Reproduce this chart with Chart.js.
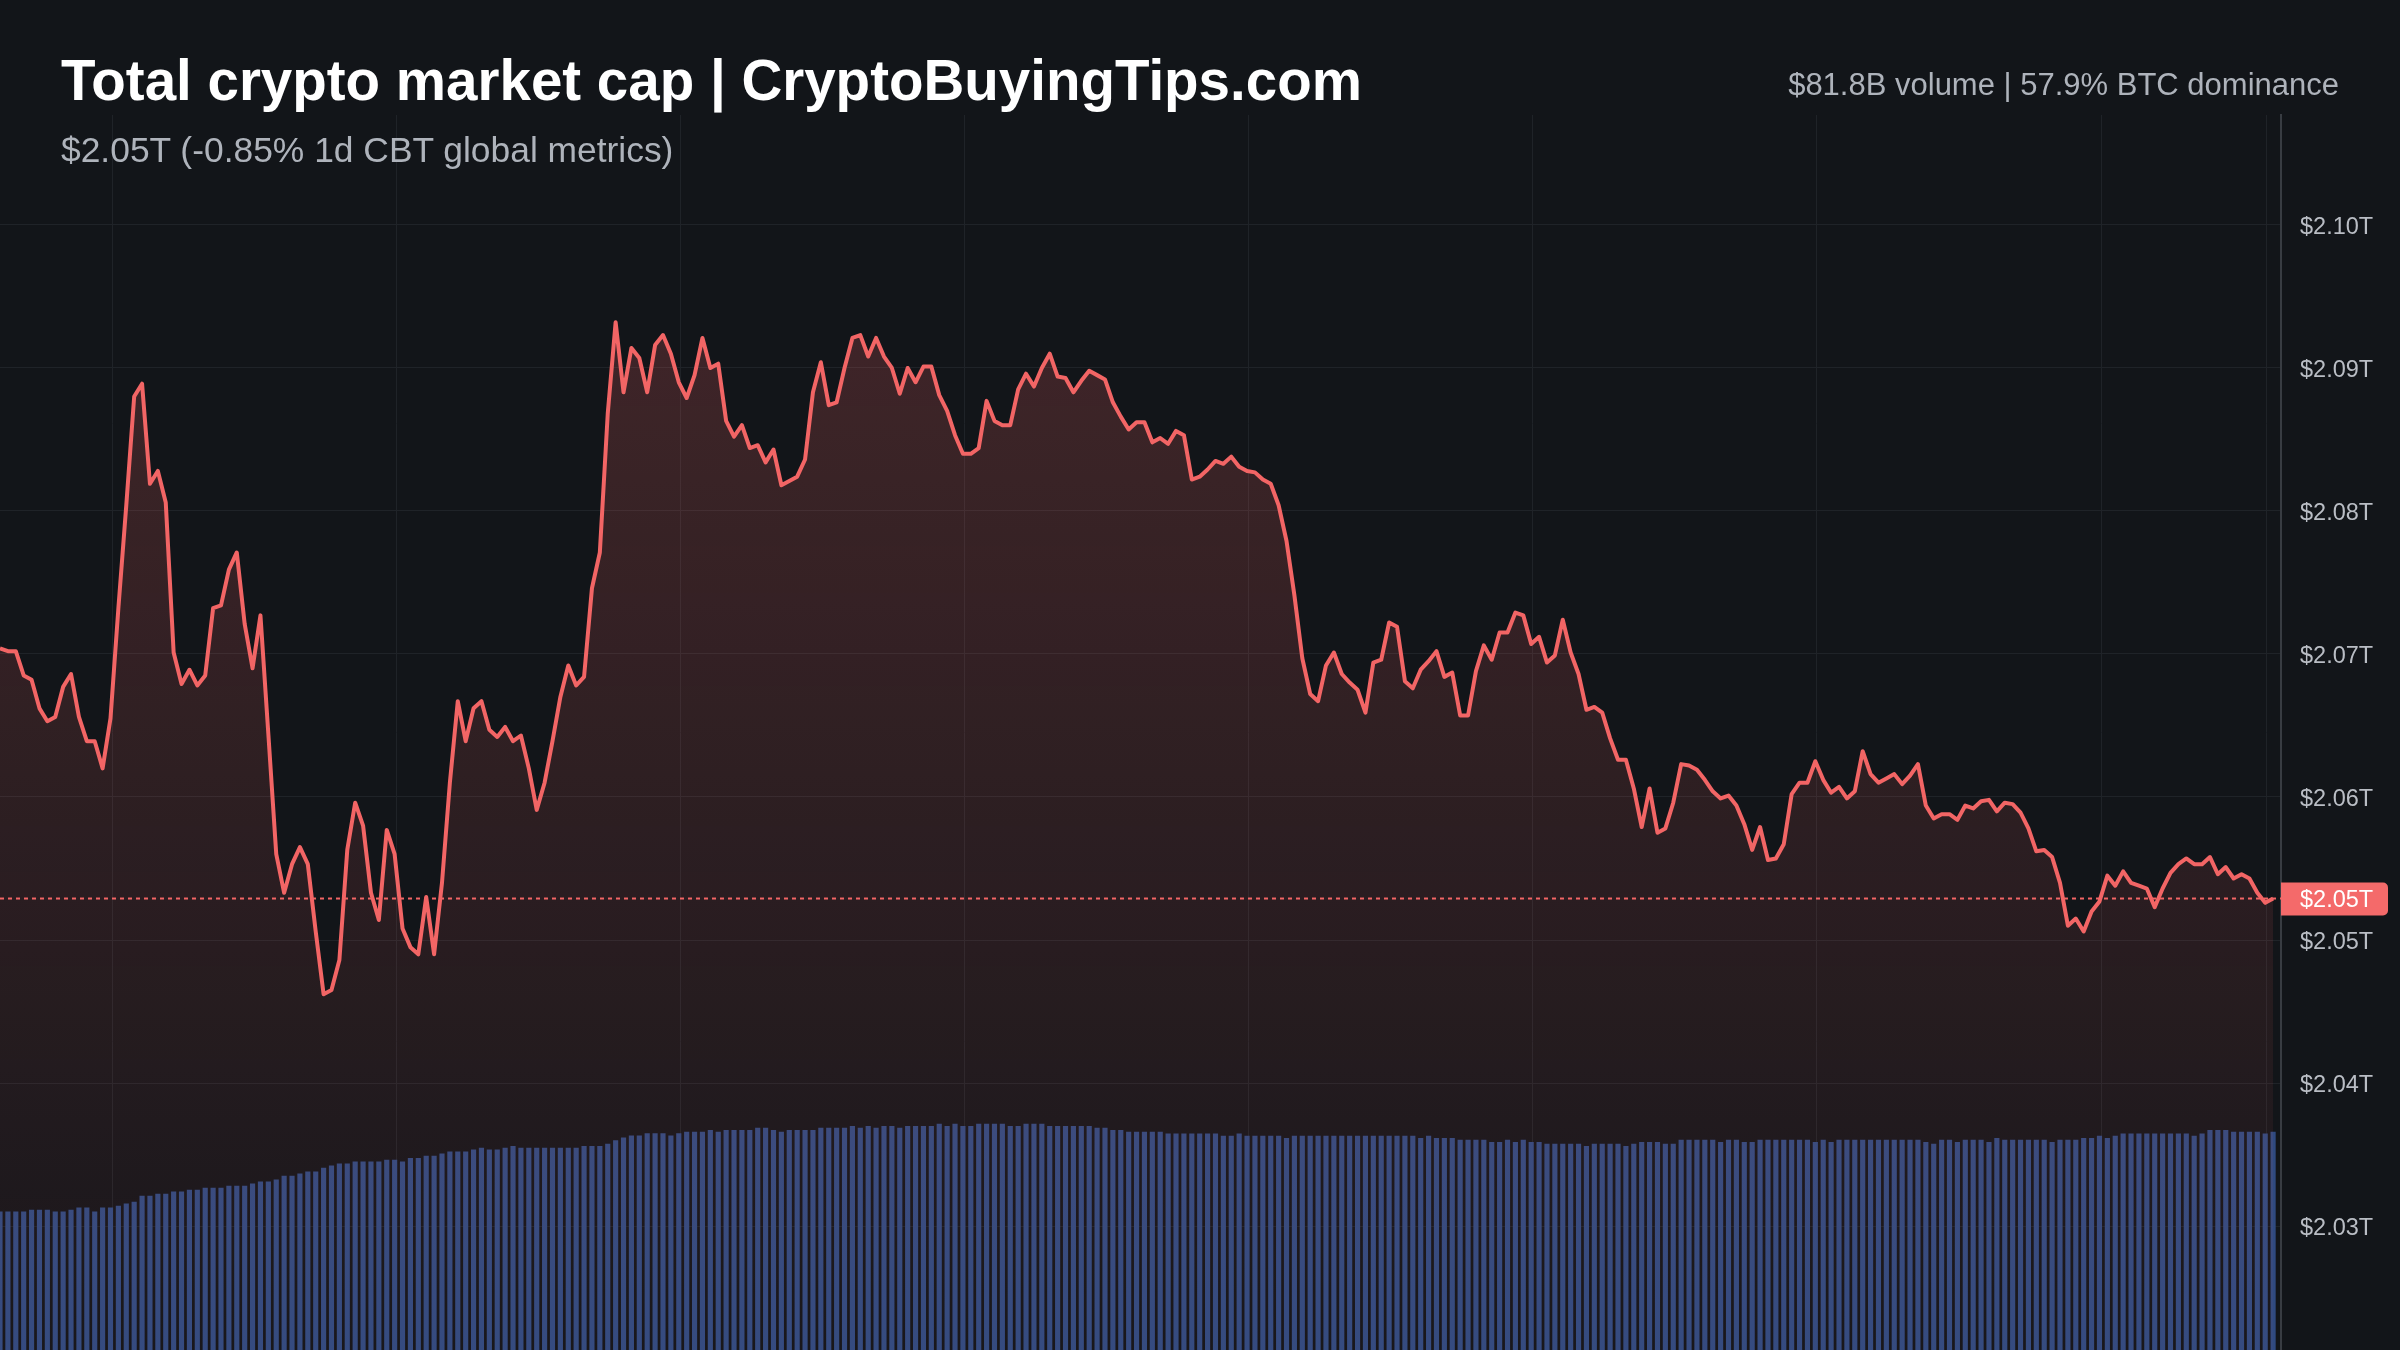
<!DOCTYPE html>
<html>
<head>
<meta charset="utf-8">
<title>Total crypto market cap</title>
<script src="https://cdn.jsdelivr.net/npm/chart.js@4.4.1/dist/chart.umd.min.js"></script>
<style>
  html, body { margin: 0; padding: 0; background: #121519; }
  #wrap { position: relative; width: 2400px; height: 1350px; overflow: hidden; font-family: "Liberation Sans", Arial, sans-serif; }
  #chart { position: absolute; left: 0; top: 0; }
  .txt { position: absolute; line-height: 1; white-space: nowrap; }
  #title { left: 61px; top: 53px; font-size: 56.5px; font-weight: bold; color: #ffffff; }
  #sub { left: 61px; top: 133px; font-size: 35.4px; color: #aeb3bb; }
  #stats { right: 61px; top: 69px; font-size: 31px; color: #aeb3bb; }
</style>
</head>
<body>
<div id="wrap">
  <canvas id="chart" width="2400" height="1350"></canvas>
  <div class="txt" id="title">Total crypto market cap | CryptoBuyingTips.com</div>
  <div class="txt" id="sub">$2.05T (-0.85% 1d CBT global metrics)</div>
  <div class="txt" id="stats">$81.8B volume | 57.9% BTC dominance</div>
</div>
<script>
// total market cap, $T, one point every 5 min over the last 24h
const marketCap = [
  2.0704, 2.0702, 2.0702, 2.0685, 2.0682, 2.0662, 2.0653, 2.0656, 2.0677, 2.0686,
  2.0656, 2.0639, 2.0639, 2.0620, 2.0655, 2.0732, 2.0804, 2.0880, 2.0889, 2.0819,
  2.0828, 2.0806, 2.0701, 2.0679, 2.0689, 2.0678, 2.0685, 2.0732, 2.0734, 2.0759,
  2.0771, 2.0721, 2.0690, 2.0727, 2.0644, 2.0560, 2.0533, 2.0553, 2.0565, 2.0553,
  2.0506, 2.0462, 2.0465, 2.0486, 2.0563, 2.0596, 2.0580, 2.0533, 2.0514, 2.0577,
  2.0560, 2.0508, 2.0495, 2.0490, 2.0530, 2.0490, 2.0540, 2.0610, 2.0667, 2.0639,
  2.0662, 2.0667, 2.0647, 2.0642, 2.0649, 2.0639, 2.0643, 2.0620, 2.0591, 2.0610,
  2.0639, 2.0670, 2.0692, 2.0678, 2.0684, 2.0746, 2.0771, 2.0868, 2.0932, 2.0883,
  2.0914, 2.0907, 2.0883, 2.0916, 2.0923, 2.0910, 2.0890, 2.0879, 2.0895, 2.0921,
  2.0900, 2.0903, 2.0863, 2.0852, 2.0860, 2.0844, 2.0846, 2.0834, 2.0843, 2.0818,
  2.0821, 2.0824,
  2.0836, 2.0883, 2.0904, 2.0874, 2.0876, 2.0900, 2.0921, 2.0923, 2.0908, 2.0921,
  2.0908, 2.0900, 2.0882, 2.0900, 2.0890, 2.0901, 2.0901, 2.0881, 2.0870, 2.0853,
  2.0840, 2.0840, 2.0844, 2.0877, 2.0863, 2.0860, 2.0860, 2.0885, 2.0896, 2.0887,
  2.0900, 2.0910, 2.0894, 2.0893, 2.0883, 2.0891, 2.0898, 2.0895, 2.0892, 2.0876,
  2.0866, 2.0857, 2.0862, 2.0862, 2.0848, 2.0851, 2.0847, 2.0856, 2.0853, 2.0822,
  2.0824, 2.0829, 2.0835, 2.0833, 2.0838, 2.0831, 2.0828, 2.0827, 2.0822, 2.0819,
  2.0804, 2.0779, 2.0741, 2.0697, 2.0672, 2.0667, 2.0692, 2.0701, 2.0686, 2.0680,
  2.0675, 2.0659, 2.0694, 2.0696, 2.0722, 2.0719, 2.0681, 2.0676, 2.0689, 2.0695,
  2.0702, 2.0684, 2.0687, 2.0657, 2.0657, 2.0688, 2.0706, 2.0696, 2.0715, 2.0715,
  2.0729, 2.0727, 2.0707, 2.0712, 2.0694, 2.0699, 2.0724, 2.0701, 2.0686, 2.0661,
  2.0663,
  2.0659, 2.0641, 2.0626, 2.0626, 2.0606, 2.0579, 2.0606, 2.0575, 2.0578, 2.0596,
  2.0623, 2.0622, 2.0619, 2.0612, 2.0604, 2.0599, 2.0601, 2.0594, 2.0581, 2.0563,
  2.0579, 2.0556, 2.0557, 2.0567, 2.0602, 2.0610, 2.0610, 2.0625, 2.0612, 2.0603,
  2.0607, 2.0599, 2.0604, 2.0632, 2.0616, 2.0610, 2.0613, 2.0616, 2.0609, 2.0615,
  2.0623, 2.0594, 2.0585, 2.0588, 2.0588, 2.0584, 2.0594, 2.0592, 2.0597, 2.0598,
  2.0590, 2.0596, 2.0595, 2.0589, 2.0578, 2.0562, 2.0563, 2.0558, 2.0540, 2.0510,
  2.0515, 2.0506, 2.0520, 2.0527, 2.0545, 2.0538, 2.0548, 2.0540, 2.0538, 2.0536,
  2.0523, 2.0536, 2.0547, 2.0553, 2.0557, 2.0553, 2.0553, 2.0558, 2.0546, 2.0551,
  2.0543, 2.0546, 2.0543, 2.0533, 2.0526, 2.0529
];

// rolling 24h volume, $B, same time steps
const volume = [
  51.8, 51.8, 51.8, 51.8, 52.5, 52.5, 52.5, 51.8, 51.8, 52.5,
  53.3, 53.3, 51.8, 53.3, 53.3, 54.0, 54.8, 55.5, 57.7, 57.7,
  58.5, 58.5, 59.3, 59.3, 60.0, 60.0, 60.7, 60.7, 60.7, 61.5,
  61.5, 61.5, 62.3, 63.0, 63.0, 63.8, 65.2, 65.2, 66.0, 66.8,
  66.8, 68.2, 69.0, 69.8, 69.8, 70.5, 70.5, 70.5, 70.5, 71.2,
  71.2, 70.5, 71.9, 71.9, 72.7, 72.7, 73.5, 74.3, 74.3, 74.3,
  75.0, 75.7, 75.0, 75.0, 75.7, 76.4, 75.7, 75.7, 75.7, 75.7,
  75.7, 75.7, 75.7, 75.7, 76.4, 76.4, 76.4, 77.2, 78.5, 79.5,
  80.3, 80.3, 81.1, 81.1, 81.1, 80.3, 81.1, 81.7, 81.7, 81.7,
  82.4, 81.7, 82.4, 82.4, 82.4, 82.4,
  83.2, 83.2, 82.4, 81.7, 82.4, 82.4, 82.4, 82.4, 83.2, 83.2,
  83.2, 83.2, 83.9, 83.2, 83.9, 83.2, 83.9, 83.9, 83.2, 83.9,
  83.9, 83.9, 83.9, 84.7, 83.9, 84.7, 83.9, 83.9, 84.7, 84.7,
  84.7, 84.7, 83.9, 83.9, 84.7, 84.7, 84.7, 83.9, 83.9, 83.9,
  83.9, 83.9, 83.9, 83.2, 83.2, 82.4, 82.4, 81.7, 81.7, 81.7,
  81.7, 81.7, 81.0, 81.0, 81.0, 81.0, 81.0, 81.0, 81.0, 80.2,
  80.2, 81.0, 80.2, 80.2, 80.2, 80.2, 80.2, 79.4, 80.2, 80.2,
  80.2, 80.2, 80.2, 80.2, 80.2, 80.2, 80.2, 80.2, 80.2, 80.2,
  80.2, 80.2, 80.2, 80.2, 79.4, 80.2, 79.4, 79.4, 79.4, 78.7,
  78.7, 78.7, 78.7, 77.9, 77.9, 78.7,
  77.9, 78.7, 77.9, 77.9, 77.2, 77.2, 77.2, 77.2, 77.2, 76.4,
  77.2, 77.2, 77.2, 77.2, 76.4, 77.2, 77.9, 77.9, 77.9, 77.2,
  77.2, 78.7, 78.7, 78.7, 78.7, 78.7, 77.9, 78.7, 78.7, 77.9,
  77.9, 78.7, 78.7, 78.7, 78.7, 78.7, 78.7, 78.7, 77.9, 78.7,
  77.9, 78.7, 78.7, 78.7, 78.7, 78.7, 78.7, 78.7, 78.7, 78.7,
  78.7, 78.7, 77.9, 77.2, 78.7, 78.7, 77.9, 78.7, 78.7, 78.7,
  77.9, 79.4, 78.7, 78.7, 78.7, 78.7, 78.7, 78.7, 77.9, 78.7,
  78.7, 78.7, 79.4, 79.4, 80.2, 79.4, 80.2, 81.0, 81.0, 81.0,
  81.0, 81.0, 81.0, 81.0, 81.0, 81.0, 80.2, 81.0, 82.4, 82.4,
  82.4, 81.7, 81.7, 81.7, 81.7, 81.0, 81.7
];

// price axis ticks ($T) and time grid positions (in 5-min steps)
const yTicks = [2.03, 2.04, 2.05, 2.06, 2.07, 2.08, 2.09, 2.10];
const xGridTicks = [14.2, 50.2, 86.2, 122.2, 158.2, 194.2, 230.2, 266.2, 287.2];

const lineColor = '#f26565';
const gridColor = '#1f2328';
const labelColor = '#b9bdc4';
const fontFamily = '"Liberation Sans", Arial, sans-serif';

const linePoints = marketCap.map((v, i) => ({x: i, y: v}));
const volPoints = volume.map((v, i) => ({x: i, y: v}));

// dotted last-price line under the series, price tag on top
const lastPrice = {
  id: 'lastPrice',
  beforeDatasetsDraw(chart) {
    const {ctx, chartArea, scales} = chart;
    const y = scales.y.getPixelForValue(marketCap[marketCap.length - 1]);
    ctx.save();
    ctx.strokeStyle = lineColor;
    ctx.lineWidth = 2;
    ctx.setLineDash([4, 4]);
    ctx.beginPath();
    ctx.moveTo(chartArea.left, y);
    ctx.lineTo(chartArea.right, y);
    ctx.stroke();
    ctx.restore();
  },
  afterDatasetsDraw(chart) {
    const {ctx, chartArea, scales} = chart;
    const last = marketCap[marketCap.length - 1];
    const y = scales.y.getPixelForValue(last);
    ctx.save();
    ctx.fillStyle = '#f46a6a';
    ctx.beginPath();
    ctx.roundRect(chartArea.right, y - 16, 107, 33, [0, 5, 5, 0]);
    ctx.fill();
    ctx.fillStyle = '#ffffff';
    ctx.font = '23.5px ' + fontFamily;
    ctx.textBaseline = 'middle';
    ctx.fillText('$' + last.toFixed(2) + 'T', chartArea.right + 19, y + 2);
    ctx.restore();
  }
};

new Chart(document.getElementById('chart'), {
  type: 'line',
  data: {
    datasets: [{
      type: 'line',
      data: linePoints,
      borderColor: lineColor,
      borderWidth: 4,
      borderJoinStyle: 'round',
      pointRadius: 0,
      tension: 0,
      fill: 'start',
      backgroundColor: ctx => {
        const area = ctx.chart.chartArea;
        if (!area) return 'rgba(242,101,101,0.1)';
        const g = ctx.chart.ctx.createLinearGradient(0, area.top, 0, area.bottom);
        g.addColorStop(0, 'rgba(242,101,101,0.24)');
        g.addColorStop(1, 'rgba(242,101,101,0.03)');
        return g;
      },
      yAxisID: 'y',
      order: 0
    }, {
      type: 'bar',
      data: volPoints,
      backgroundColor: '#2f4a80',
      barThickness: 4.5,
      yAxisID: 'y2',
      order: 1
    }]
  },
  options: {
    responsive: false,
    animation: false,
    devicePixelRatio: 1,
    layout: {padding: {top: 115, left: 0, right: 0, bottom: 0}},
    plugins: {legend: {display: false}, tooltip: {enabled: false}},
    scales: {
      x: {
        type: 'linear',
        min: 0,
        max: 289,
        offset: false,
        grid: {color: gridColor, drawTicks: false, offset: false},
        border: {display: false},
        ticks: {display: false},
        afterBuildTicks: axis => { axis.ticks = xGridTicks.map(v => ({value: v})); },
        afterFit: axis => { axis.height = 0; axis.paddingLeft = 0; axis.paddingRight = 0; }
      },
      y: {
        position: 'right',
        min: 2.02133,
        max: 2.10769,
        grid: {color: gridColor, drawTicks: false},
        border: {display: true, color: '#383c42', width: 2},
        afterBuildTicks: axis => { axis.ticks = yTicks.map(v => ({value: v})); },
        afterFit: axis => { axis.width = 119; axis.paddingTop = 0; axis.paddingBottom = 0; },
        ticks: {
          padding: 19,
          labelOffset: 3,
          color: labelColor,
          font: {family: fontFamily, size: 23.5},
          callback: v => '$' + v.toFixed(2) + 'T'
        }
      },
      y2: {
        display: false,
        min: 0,
        max: 463
      }
    }
  },
  plugins: [lastPrice]
});
</script>
</body>
</html>
